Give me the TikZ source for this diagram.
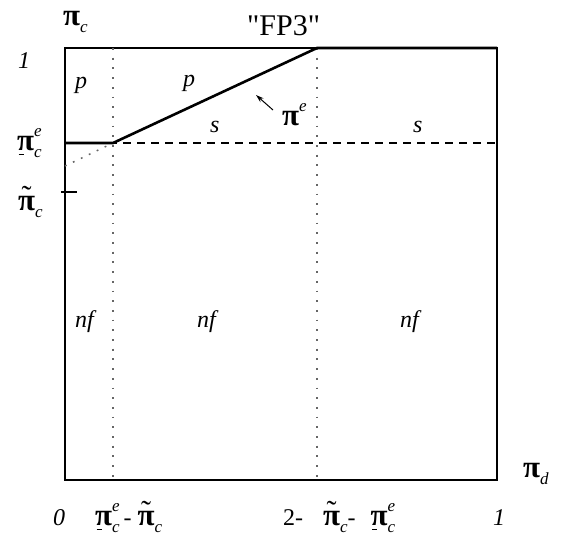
\documentclass[tikz,border=0pt]{standalone}
\usepackage{fontspec}
\setmainfont{Liberation Serif}
\newfontfamily\titlefont{Liberation Serif}[Ligatures=TeXOff]
\usetikzlibrary{arrows.meta}

% pi in a heavier, larger cut; pi with a short bar below; pi with a tilde; stacked sub/superscripts
\newcommand{\pig}{{\fontsize{31}{31}\selectfont\bfseries π}}
\newcommand{\pibar}{\leavevmode\rlap{\kern1.5pt\raisebox{-5pt}{\rule{5pt}{1.3pt}}}\pig}
\newcommand{\pitil}{\leavevmode\setbox0\hbox{\pig}\rlap{\hbox to\wd0{\hss\raisebox{4pt}{\fontsize{30}{30}\selectfont ˜}\hss}}\pig}
\newcommand{\lowidx}[1]{\raisebox{-0.3em}{\fontsize{17}{17}\selectfont\itshape #1}}
\newcommand{\lowhigh}[2]{\rlap{\raisebox{0.55em}{\fontsize{17}{17}\selectfont\itshape #2}}\lowidx{#1}}

\begin{document}
\begin{tikzpicture}[x=1pt,y=-1pt,>={Stealth[length=8pt,width=5pt]},
    lbl/.style={inner sep=0pt,anchor=base west,font=\fontsize{24}{28}\selectfont},
    frame/.style={line width=1.1pt},
    bound/.style={line width=2.6pt},
    grid/.style={black!60,line width=1.8pt,dash pattern=on 1.8pt off 7.9pt}]
  \useasboundingbox (0,0) rectangle (571,538);
  \coordinate (O) at (65,480);
  \coordinate (T) at (497,48);
  \coordinate (A) at (65,143);
  \coordinate (B) at (113,143);
  \coordinate (C) at (317,48);
  \coordinate (D) at (497,143);
  \coordinate (E) at (65,166);
  \draw[frame] (O) rectangle (T);
  \draw[grid] (B |- T) -- (B |- O);
  \draw[grid] (C) -- (C |- O);
  \draw[frame,dash pattern=on 8pt off 6pt,dash phase=-10pt] (B) -- (D);
  \draw[black!60,line width=1.5pt,dash pattern=on 1.8pt off 7pt] (E) -- (B);
  \draw[bound] (A) -- (B) -- (C) -- (T);
  \draw[frame] (61,192) -- (77,192);
  % labels
  \node[lbl] (pc) at (63,25) {\pig\lowidx{c}};
  \node[lbl] (one) at (18,68) {\itshape 1};
  \node[lbl] (pce) at (17,150) {\pibar\lowhigh{c}{e}};
  \node[lbl] (ptc) at (18,210) {\pitil\lowidx{c}};
  \node[lbl,font=\fontsize{30}{34}\titlefont] (title) at (247,35) {"FP3"};
  \node[lbl] (p1) at (75,88) {\itshape p};
  \node[lbl] (p2) at (183,86) {\itshape p};
  \node[lbl] (s1) at (210,132) {\itshape s};
  \node[lbl] (s2) at (413,132) {\itshape s};
  \node[lbl] (pe) at (282,125) {\pig\raisebox{0.55em}{\fontsize{17}{17}\selectfont\itshape e}};
  \node[lbl] (nf1) at (75,327) {\itshape nf};
  \node[lbl] (nf2) at (197,327) {\itshape nf};
  \node[lbl] (nf3) at (400,327) {\itshape nf};
  \node[lbl] (pd) at (523,477) {\pig\lowidx{d}};
  \node[lbl] (zero) at (53,525) {\itshape 0};
  \node[lbl] (xa) at (95,525) {\pibar\lowhigh{c}{e}\hspace{4pt}-\hspace{6pt}\pitil\lowidx{c}};
  \node[lbl] (xb) at (283,525) {2-\hspace{20pt}\pitil\lowidx{c}-\hspace{15pt}\pibar\lowhigh{c}{e}};
  \node[lbl] (xone) at (493,525) {\itshape 1};
  \coordinate (tip) at (256,95);
  \draw[->,line width=1pt] (273,110) -- (tip);
\end{tikzpicture}
\end{document}
